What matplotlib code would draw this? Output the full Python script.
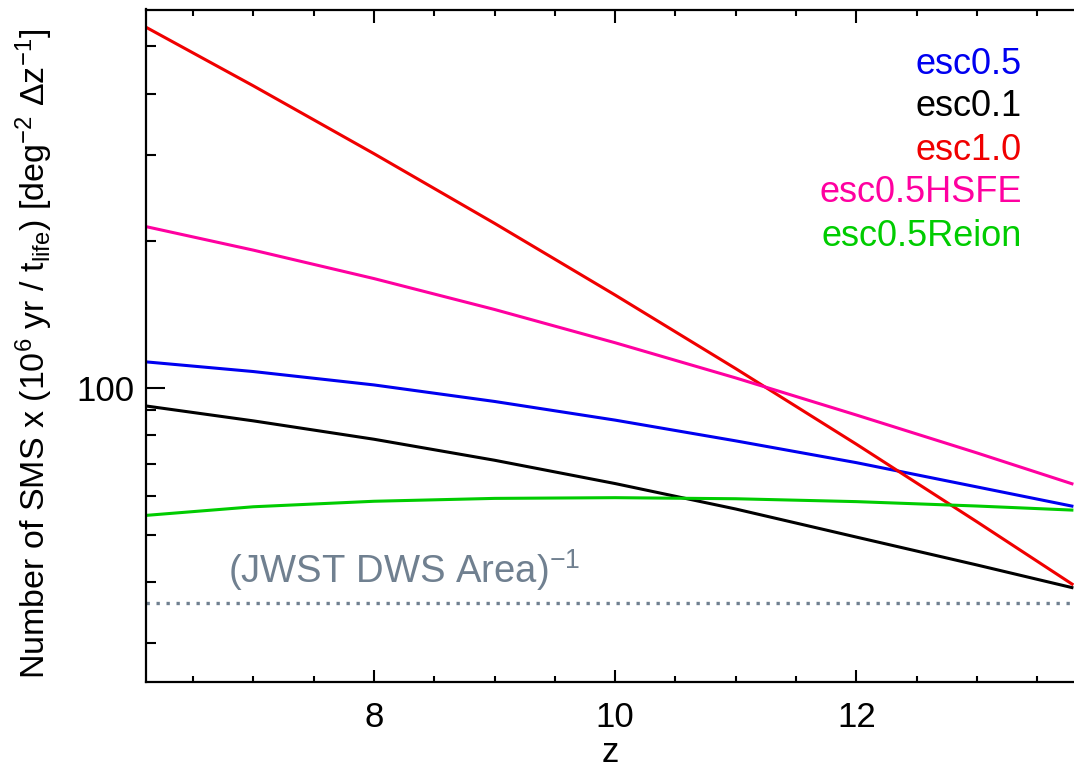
import numpy as np
import matplotlib
matplotlib.use("Agg")
import matplotlib.pyplot as plt
from matplotlib.ticker import LogLocator, FixedLocator, NullFormatter, FuncFormatter, MultipleLocator

plt.rcParams["font.family"] = ["Liberation Sans", "DejaVu Sans"]
plt.rcParams["mathtext.fontset"] = "custom"
plt.rcParams["mathtext.rm"] = "Liberation Sans"
plt.rcParams["mathtext.it"] = "Liberation Sans"

# redshift grid and curves (log y axis)
z = [6.1, 7, 8, 9, 10, 11, 12, 13, 13.8]
esc05 = [113.1, 108.0, 101.4, 93.8, 85.9, 77.9, 70.3, 62.7, 57.2]
esc01 = [91.9, 85.6, 78.5, 71.1, 63.7, 56.5, 49.5, 43.4, 38.95]
esc10 = [549, 415.2, 301.6, 217.2, 154.9, 109.5, 76.7, 53.2, 39.5]
esc05_hsfe = [214.1, 191.4, 167.4, 144.7, 123.7, 104.8, 88.0, 73.6, 63.5]
esc05_reion = [54.8, 57.1, 58.6, 59.4, 59.6, 59.3, 58.5, 57.3, 56.2]
jwst_dws = 36.2

labels = ["esc0.5", "esc0.1", "esc1.0", "esc0.5HSFE", "esc0.5Reion"]
colors = ["#0000f0", "#000000", "#f00000", "#ff00a0", "#00cc00"]
series = [esc05, esc01, esc10, esc05_hsfe, esc05_reion]

fig = plt.figure(figsize=(10.74, 7.71), dpi=100)
ax = fig.add_axes([146 / 1074, 1 - 682 / 771, (1074 - 146) / 1074, (682 - 9.5) / 771])

for ys, c in zip(series, colors):
    ax.plot(z, ys, color=c, lw=2.2, solid_capstyle="butt")

ax.axhline(jwst_dws, color="#708090", lw=2.4, ls=(0, (1.0, 2.0)))
ax.text(6.79, 39.9, r"(JWST DWS Area)$^{-1}$", color="#708090", fontsize=27.5)

ax.set_yscale("log")
ax.set_xlim(6.11, 13.805)
ax.set_ylim(25, 595)

ax.xaxis.set_major_locator(FixedLocator([8, 10, 12]))
ax.xaxis.set_minor_locator(MultipleLocator(0.5))
ax.yaxis.set_major_locator(FixedLocator([100]))
ax.yaxis.set_major_formatter(FuncFormatter(lambda v, p: "%d" % v))
ax.yaxis.set_minor_locator(LogLocator(base=10, subs=np.arange(2, 10)))
ax.yaxis.set_minor_formatter(NullFormatter())

ax.tick_params(axis="both", which="both", direction="in", width=1.5, labelsize=25)
ax.tick_params(axis="x", which="both", top=True, bottom=True, pad=14)
ax.tick_params(axis="x", which="major", length=9)
ax.tick_params(axis="x", which="minor", length=4.5)
ax.tick_params(axis="y", which="both", left=True, right=False, pad=8)
ax.tick_params(axis="y", which="major", length=14)
ax.tick_params(axis="y", which="minor", length=7.5)

for s in ["left", "bottom", "top"]:
    ax.spines[s].set_linewidth(1.6)
ax.spines["right"].set_visible(False)

ax.set_xlabel("z", fontsize=25, labelpad=1)
ax.set_ylabel(r"Number of SMS x (10$^6$ yr / t$_{\rm life}$) [deg$^{-2}$ Δz$^{-1}$]",
              fontsize=24.5)
ax.yaxis.set_label_coords(-0.098, 0.488)

legend_y = [64, 107, 150, 193, 236]
for lab, c, yp in zip(labels, colors, legend_y):
    ax.text(0.944, (682 - yp) / 672.5, lab, color=c, fontsize=26,
            ha="right", va="center", transform=ax.transAxes)

fig.savefig("out.png", dpi=100)
